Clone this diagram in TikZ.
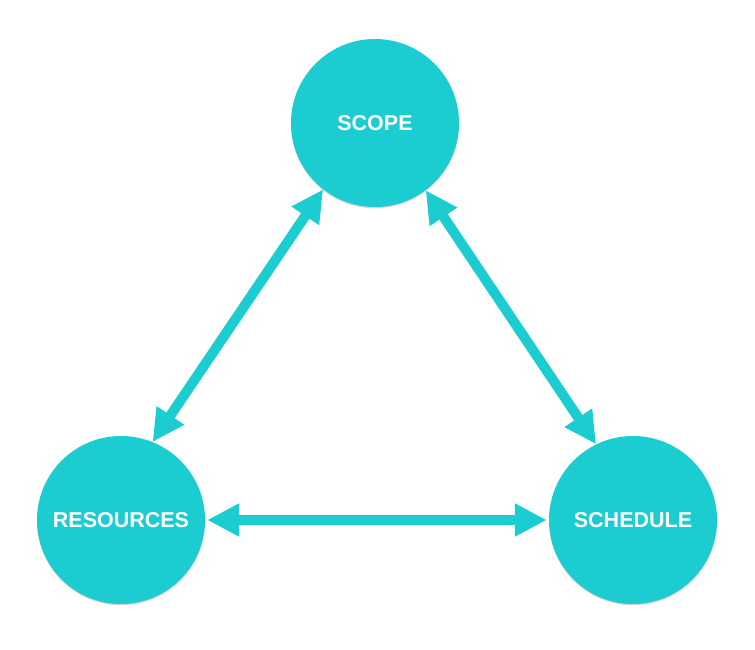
\documentclass[tikz,border=0pt]{standalone}
\usepackage{fontspec}
\setmainfont{Liberation Sans}
\usetikzlibrary{arrows.meta,shadows}
\definecolor{cyanish}{RGB}{27,204,209}

\begin{document}
\begin{tikzpicture}[x=1pt,y=-1pt,
    bubble/.style={circle,fill=cyanish,minimum size=168pt,inner sep=0pt,
        text=white,font=\bfseries\fontsize{21.5}{25}\selectfont,
        drop shadow={shadow xshift=0pt,shadow yshift=-1.2pt,opacity=0.35,fill=gray}},
    link/.style={draw=cyanish,line width=10pt,
        {Triangle[width=31pt,length=32pt]}-{Triangle[width=31pt,length=32pt]}}]
\useasboundingbox (0,0) rectangle (755,649);

\node[bubble] (scope) at (375,123) {SCOPE};
\node[bubble] (res) at (121,520) {RESOURCES};
\node[bubble] (sched) at (633,520) {SCHEDULE};

\draw[link] (scope.232) -- (res.68);
\draw[link] (scope.307) -- (sched.116);
\draw[link] ([xshift=2pt]res.east) -- ([xshift=-2pt]sched.west);
\end{tikzpicture}
\end{document}
